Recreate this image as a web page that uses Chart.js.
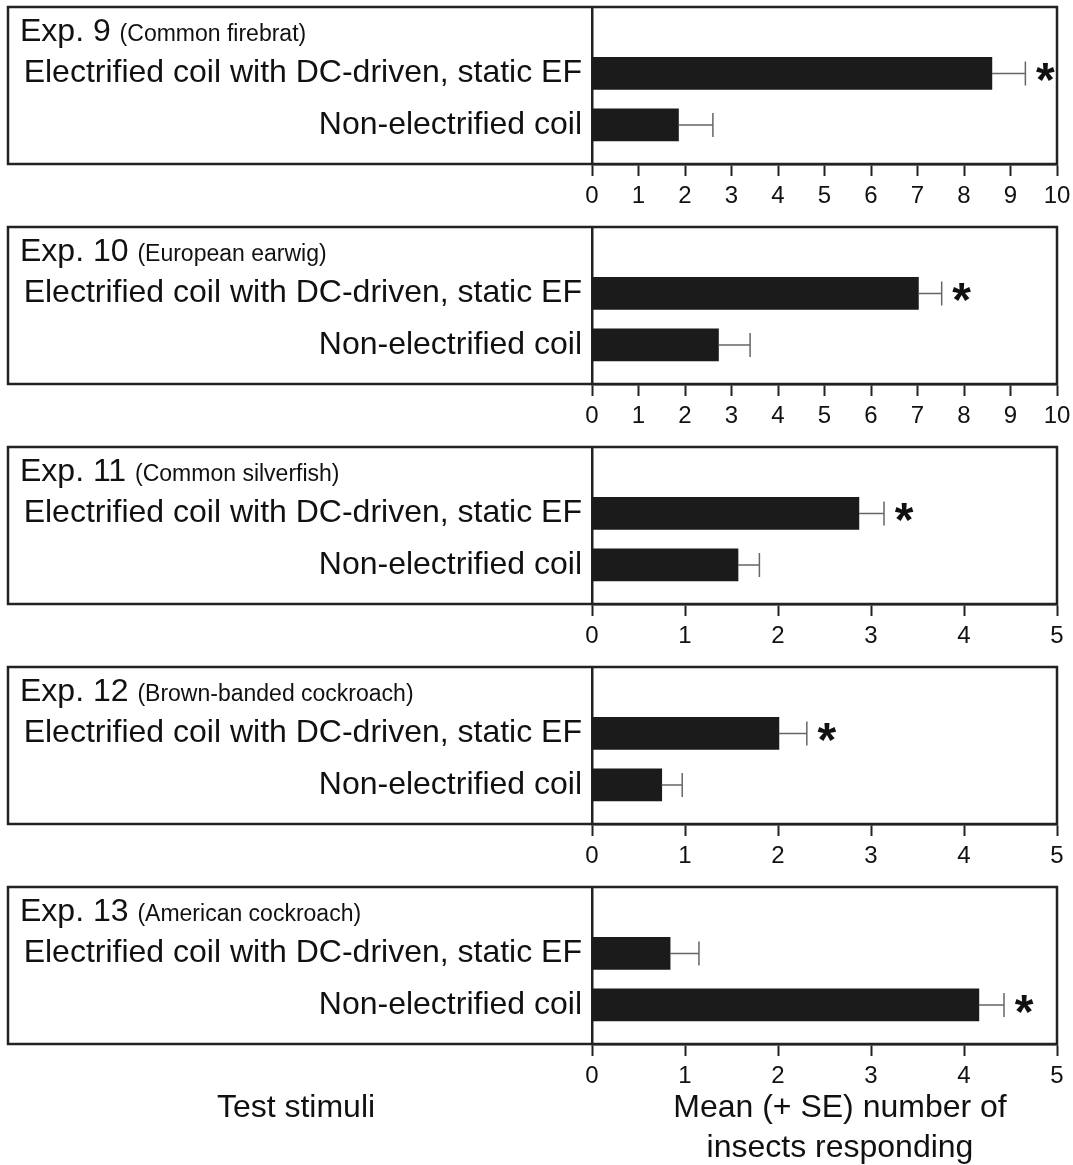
<!DOCTYPE html>
<html>
<head>
<meta charset="utf-8">
<script src="https://cdn.jsdelivr.net/npm/chart.js@4.4.1/dist/chart.umd.min.js"></script>
<style>
  body { margin: 0; background: #fff; width: 1073px; height: 1165px; position: relative; overflow: hidden;
         font-family: 'Liberation Sans', Arial, Helvetica, sans-serif; color: #111; }
  .panel { position: absolute; left: 0; width: 1073px; height: 220px; }
  .foot { position: absolute; font-size: 32px; line-height: 40px; text-align: center; }
</style>
</head>
<body>
<div class="panel" style="top:0"><canvas id="p0" width="1073" height="220"></canvas></div>
<div class="panel" style="top:220px"><canvas id="p1" width="1073" height="220"></canvas></div>
<div class="panel" style="top:440px"><canvas id="p2" width="1073" height="220"></canvas></div>
<div class="panel" style="top:660px"><canvas id="p3" width="1073" height="220"></canvas></div>
<div class="panel" style="top:880px"><canvas id="p4" width="1073" height="220"></canvas></div>
<div class="foot" style="left:0; width:592px; top:1086px;">Test stimuli</div>
<div class="foot" style="left:630px; width:420px; top:1086px;">Mean (+ SE) number of<br>insects responding</div>

<script>
const experiments = ['Exp. 9', 'Exp. 10', 'Exp. 11', 'Exp. 12', 'Exp. 13'];
const species = ['(Common firebrat)', '(European earwig)', '(Common silverfish)', '(Brown-banded cockroach)', '(American cockroach)'];
const stimuli = ['Electrified coil with DC-driven, static EF', 'Non-electrified coil'];
const electrifiedMean = [8.6, 7.02, 2.87, 2.01, 0.84];
const electrifiedSE = [0.72, 0.5, 0.27, 0.3, 0.31];
const nonElectrifiedMean = [1.86, 2.72, 1.57, 0.75, 4.16];
const nonElectrifiedSE = [0.74, 0.68, 0.23, 0.22, 0.27];
const axisMax = [10, 10, 5, 5, 5];
// which row got the asterisk in each experiment (0 = electrified, 1 = non-electrified)
const starredRow = [0, 0, 0, 0, 1];

const FONT = "'Liberation Sans', Arial, Helvetica, sans-serif";
Chart.defaults.font.family = FONT;
Chart.defaults.color = '#111';

// frame, title, error bars and asterisks
const panelDecor = {
  id: 'panelDecor',
  afterDatasetsDraw(chart, args, opts) {
    const { ctx, chartArea: a, scales: { x } } = chart;
    const ds = chart.data.datasets[0];
    const meta = chart.getDatasetMeta(0);
    ctx.save();
    meta.data.forEach((bar, k) => {
      const end = x.getPixelForValue(ds.data[k].x + ds.se[k]);
      ctx.strokeStyle = '#666';
      ctx.lineWidth = 1.5;
      ctx.beginPath();
      ctx.moveTo(bar.x, bar.y);
      ctx.lineTo(end, bar.y);
      ctx.moveTo(end, bar.y - 12);
      ctx.lineTo(end, bar.y + 12);
      ctx.stroke();
      if (opts.star === k) {
        ctx.fillStyle = '#111';
        ctx.font = 'bold 48px ' + FONT;
        ctx.textAlign = 'center';
        ctx.textBaseline = 'alphabetic';
        ctx.fillText('*', end + 20, bar.y + 23);
      }
    });
    ctx.strokeStyle = '#222';
    ctx.lineWidth = 2.5;
    ctx.strokeRect(8, a.top, a.right - 8, a.bottom - a.top);

    ctx.fillStyle = '#111';
    ctx.textAlign = 'left';
    ctx.textBaseline = 'alphabetic';
    ctx.font = '32px ' + FONT;
    ctx.fillText(opts.title, 20, a.top + 34);
    const w = ctx.measureText(opts.title + ' ').width;
    ctx.font = '23px ' + FONT;
    ctx.fillText(opts.sub, 20 + w, a.top + 34);
    ctx.restore();
  }
};

experiments.forEach((exp, i) => {
  const ctx = document.getElementById('p' + i).getContext('2d');
  new Chart(ctx, {
    type: 'bar',
    data: {
      datasets: [{
        data: [
          { x: electrifiedMean[i], y: 1 },
          { x: nonElectrifiedMean[i], y: 2 },
        ],
        se: [electrifiedSE[i], nonElectrifiedSE[i]],
        backgroundColor: '#1b1b1b',
        borderWidth: 0,
        barThickness: 32,
      }],
    },
    options: {
      indexAxis: 'y',
      responsive: false,
      animation: false,
      layout: { padding: { left: 0, right: 16, top: 7, bottom: 0 } },
      plugins: {
        legend: { display: false },
        tooltip: { enabled: false },
        panelDecor: { title: exp, sub: species[i], star: starredRow[i] },
      },
      scales: {
        x: {
          type: 'linear',
          position: 'bottom',
          min: 0,
          max: axisMax[i],
          ticks: { stepSize: 1, font: { size: 24 }, color: '#111', padding: 6, maxRotation: 0 },
          grid: { drawOnChartArea: false, drawTicks: true, tickLength: 12, tickWidth: 2, tickColor: '#222' },
          border: { display: true, color: '#222', width: 2.5 },
          afterFit: (s) => { s.height = 56; s.paddingLeft = 0; s.paddingRight = 0; },
        },
        y: {
          type: 'linear',
          reverse: true,
          offset: false,
          min: -0.29,
          max: 2.76,
          afterBuildTicks: (s) => { s.ticks = [{ value: 1 }, { value: 2 }]; },
          ticks: { callback: (v) => stimuli[v - 1], font: { size: 32 }, color: '#111', padding: 10 },
          grid: { drawOnChartArea: false, drawTicks: false, offset: false },
          border: { display: true, color: '#222', width: 2.5 },
          afterFit: (s) => { s.width = 592; s.paddingTop = 0; s.paddingBottom = 0; },
        },
      },
    },
    plugins: [panelDecor],
  });
});
</script>
</body>
</html>
